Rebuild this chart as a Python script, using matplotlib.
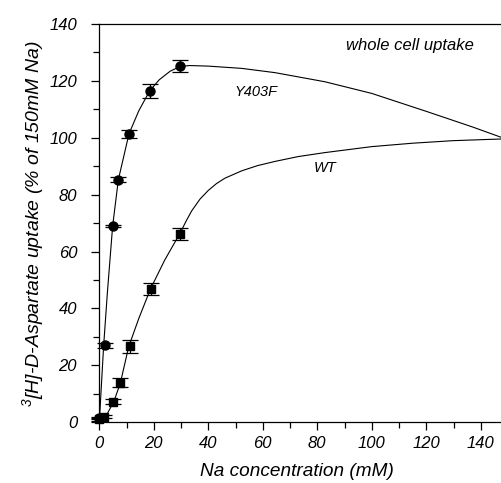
import numpy as np
import matplotlib
matplotlib.use('Agg')
import matplotlib.pyplot as plt
from matplotlib.ticker import MultipleLocator

plt.rcParams['font.family'] = 'Liberation Sans'
plt.rcParams['font.style'] = 'italic'
plt.rcParams['mathtext.fontset'] = 'custom'
plt.rcParams['mathtext.it'] = 'Liberation Sans:italic'
plt.rcParams['mathtext.rm'] = 'Liberation Sans:italic'

# measured points (mean +- error)
y403f_x = [0, 2.0, 4.9, 7.0, 10.9, 18.5, 29.5]
y403f_y = [1.5, 27, 69, 85.3, 101.4, 116.5, 125.3]
y403f_err = [0.5, 1.0, 0.5, 0.8, 1.5, 2.4, 2.0]

wt_x = [0, 1.8, 5.2, 7.6, 11.2, 18.8, 29.7]
wt_y = [1, 2, 7.3, 13.9, 26.7, 46.9, 66.2]
wt_err = [0.5, 0.5, 0.8, 1.5, 2.2, 2.0, 2.2]

# fitted curves
y403f_fit_x = [0, 1.6, 3.0, 4.9, 7.0, 10.9, 14.5, 18.5, 22, 26, 29.5, 33, 40,
               52.3, 64.5, 82.8, 100, 120, 137, 148]
y403f_fit_y = [0, 27, 46, 69, 85.3, 101.4, 109.5, 116.5, 120.4, 123.4, 125.0, 125.4, 125.2,
               124.4, 122.9, 119.7, 115.6, 109.3, 103.8, 100]

wt_fit_x = [0, 2.0, 5.3, 7.7, 10.8, 14.5, 18.8, 24, 29.6, 31.8, 33.9, 37, 40, 43, 46.1,
            52.3, 58, 64.5, 73, 82.8, 100, 115, 130, 148]
wt_fit_y = [0.5, 1.4, 7.2, 13.7, 26.6, 36.5, 46.9, 57, 66.4, 70.6, 74.3, 78.5, 81.5, 83.9, 85.8,
            88.4, 90.2, 91.7, 93.4, 94.8, 96.9, 98.1, 99.0, 99.6]

fig = plt.figure(figsize=(5.02, 4.83), dpi=100)
ax = fig.add_axes([0.1978, 0.1257, 0.8022, 0.8246])

ax.plot(y403f_fit_x, y403f_fit_y, color='k', lw=0.8)
ax.plot(wt_fit_x, wt_fit_y, color='k', lw=0.8)

ax.errorbar(y403f_x, y403f_y, yerr=y403f_err, fmt='o', color='k', ms=6.5,
            capsize=5.5, elinewidth=0.9, capthick=0.9, clip_on=False, zorder=3)
ax.errorbar(wt_x, wt_y, yerr=wt_err, fmt='s', color='k', ms=5.5,
            capsize=5.5, elinewidth=0.9, capthick=0.9, clip_on=False, zorder=3)

ax.set_xlim(0, 147.8)
ax.set_ylim(0, 140)
ax.xaxis.set_major_locator(MultipleLocator(20))
ax.xaxis.set_minor_locator(MultipleLocator(10))
ax.yaxis.set_major_locator(MultipleLocator(20))
ax.yaxis.set_minor_locator(MultipleLocator(10))
ax.tick_params(which='major', direction='out', length=6, width=0.9, labelsize=12)
ax.tick_params(axis='y', which='major', pad=10)
ax.tick_params(axis='x', which='major', pad=4)
ax.tick_params(which='minor', direction='out', length=4, width=0.9)
ax.spines['right'].set_visible(False)
for s in ['left', 'bottom', 'top']:
    ax.spines[s].set_linewidth(0.9)

ax.text(114, 132.4, 'whole cell uptake', fontsize=12, ha='center', va='center')
ax.text(57.4, 116.2, 'Y403F', fontsize=10.5, ha='center', va='center')
ax.text(83, 89.5, 'WT', fontsize=10.5, ha='center', va='center')

fig.text(0.591, 0.0228, 'Na concentration (mM)', fontsize=13.7, ha='center', va='center')
fig.text(0.0657, 0.537, r'$^{3}$[H]-D-Aspartate uptake (% of 150mM Na)', fontsize=14,
         rotation=90, ha='center', va='center')

plt.savefig('out.png', dpi=100)
